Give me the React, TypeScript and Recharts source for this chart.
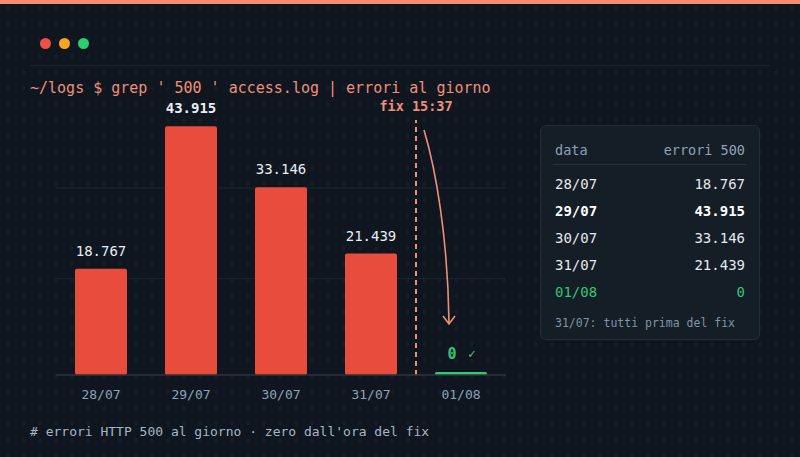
import { BarChart, Bar, XAxis, YAxis, CartesianGrid, ReferenceLine, LabelList } from 'recharts';

const days = ['28/07', '29/07', '30/07', '31/07', '01/08'];
const errors500 = [18767, 43915, 33146, 21439, 0];
const gridTicks = [17000, 33000];
const yMax = 45000;
const fixDay = '31/07';
const fixLabel = 'fix 15:37';
const tableNote = '31/07: tutti prima del fix';

const MONO = '"DejaVu Sans Mono", "Liberation Mono", monospace';
const BG = '#0f1620';
const RED = '#e84c3d';
const GREEN = '#34c76f';
const SALMON = '#ee9078';
const MUTED = '#8ea3b8';

const chartData = days.map((day, i) => ({ day, errori: errors500[i] }));
const peak = Math.max(...errors500);

const fmt = (n: number) => String(n).replace(/\B(?=(\d{3})+(?!\d))/g, '.');

const BarShape = (props: any) => {
  const { x, y, width, height, payload } = props;
  if (payload.errori === 0) {
    return <rect x={x} y={y - 3} width={width} height={3} rx={1.5} fill={GREEN} />;
  }
  return <rect x={x} y={y} width={width} height={height} rx={2} fill={RED} />;
};

const ValueLabel = (props: any) => {
  const { x, y, width, value } = props;
  const cx = x + width / 2;
  if (value === 0) {
    return (
      <g fontFamily={MONO}>
        <text x={cx - 9} y={y - 16} textAnchor="middle" fontSize={15} fontWeight="bold" fill={GREEN}>0</text>
        <text x={cx + 11} y={y - 17} textAnchor="middle" fontSize={13} fill="#4fbf7c">✓</text>
      </g>
    );
  }
  return (
    <text
      x={cx}
      y={y - 13}
      textAnchor="middle"
      fontFamily={MONO}
      fontSize={14}
      fontWeight={value === peak ? 'bold' : 'normal'}
      fill="#e9eef3"
    >
      {fmt(value)}
    </text>
  );
};

export default function App() {
  return (
    <div
      style={{
        position: 'absolute',
        left: 0,
        top: 0,
        width: 800,
        height: 457,
        overflow: 'hidden',
        backgroundColor: BG,
        backgroundImage: 'radial-gradient(rgba(255,255,255,0.05) 1px, transparent 1.2px)',
        backgroundSize: '16px 16px',
        fontFamily: MONO,
      }}
    >
      <div style={{ position: 'absolute', left: 0, top: 0, width: 800, height: 4, background: '#f78a6f' }} />

      {/* window dots */}
      {['#ed5045', '#f5a524', '#2ecc71'].map((c, i) => (
        <div
          key={c}
          style={{
            position: 'absolute',
            left: 39.5 + i * 19,
            top: 37.5,
            width: 11,
            height: 11,
            borderRadius: '50%',
            background: c,
          }}
        />
      ))}
      <div style={{ position: 'absolute', left: 30, top: 65, width: 740, height: 1, background: '#1b232e' }} />

      <div
        style={{
          position: 'absolute',
          left: 30,
          top: 79,
          fontSize: 15,
          lineHeight: '18px',
          color: SALMON,
          whiteSpace: 'pre',
        }}
      >
        {"~/logs $ grep ' 500 ' access.log | errori al giorno"}
      </div>

      <div style={{ position: 'absolute', left: 0, top: 0 }}>
        <BarChart
          width={800}
          height={457}
          data={chartData}
          margin={{ top: 120, right: 294, bottom: 52, left: 56 }}
        >
          <CartesianGrid vertical={false} horizontalValues={gridTicks} stroke="#1c2530" strokeWidth={1} />
          <YAxis hide domain={[0, yMax]} ticks={gridTicks} />
          <XAxis
            dataKey="day"
            height={30}
            axisLine={{ stroke: '#2c3540', strokeWidth: 1.5 }}
            tickLine={false}
            tickSize={0}
            tickMargin={15}
            tick={{ fill: MUTED, fontSize: 13, fontFamily: MONO }}
          />
          <ReferenceLine
            x={fixDay}
            position="end"
            stroke={SALMON}
            strokeWidth={2}
            strokeDasharray="5 4"
            label={{
              value: fixLabel,
              position: 'top',
              offset: 9,
              fill: SALMON,
              fontSize: 13.5,
              fontWeight: 'bold',
              fontFamily: MONO,
            }}
          />
          <Bar dataKey="errori" barSize={52} shape={BarShape} isAnimationActive={false}>
            <LabelList dataKey="errori" content={ValueLabel} />
          </Bar>
        </BarChart>
      </div>

      {/* arrow from fix marker down to the zero day */}
      <svg style={{ position: 'absolute', left: 0, top: 0 }} width={800} height={457}>
        <path d="M424 130 C 436 170, 448 240, 449 323" fill="none" stroke={SALMON} strokeWidth={1.6} />
        <polyline points="443,316 449,324 455,316" fill="none" stroke={SALMON} strokeWidth={1.6} />
      </svg>

      {/* side table */}
      <div
        style={{
          position: 'absolute',
          left: 540,
          top: 125,
          width: 218,
          height: 213,
          background: '#151d27',
          border: '1px solid #232c38',
          borderRadius: 6,
        }}
      >
        <div style={{ position: 'absolute', left: 14, right: 14, top: 14, fontSize: 13.5, lineHeight: '20px', color: MUTED, display: 'flex', justifyContent: 'space-between' }}>
          <span>data</span>
          <span>errori 500</span>
        </div>
        <div style={{ position: 'absolute', left: 12, right: 12, top: 38, height: 1, background: '#27303c' }} />
        {days.map((d, i) => {
          const zero = errors500[i] === 0;
          const bold = errors500[i] === peak;
          return (
            <div
              key={d}
              style={{
                position: 'absolute',
                left: 14,
                right: 14,
                top: 48 + i * 27,
                fontSize: 14,
                lineHeight: '20px',
                color: zero ? GREEN : bold ? '#ffffff' : '#e4e9ee',
                fontWeight: bold ? 'bold' : 'normal',
                display: 'flex',
                justifyContent: 'space-between',
              }}
            >
              <span>{d}</span>
              <span>{fmt(errors500[i])}</span>
            </div>
          );
        })}
        <div style={{ position: 'absolute', left: 14, top: 188, fontSize: 11.5, lineHeight: '18px', color: '#8194a8' }}>
          {tableNote}
        </div>
      </div>

      <div style={{ position: 'absolute', left: 30, top: 422, fontSize: 13, lineHeight: '20px', color: '#a7b6c5', whiteSpace: 'pre' }}>
        {"# errori HTTP 500 al giorno · zero dall'ora del fix"}
      </div>
    </div>
  );
}
